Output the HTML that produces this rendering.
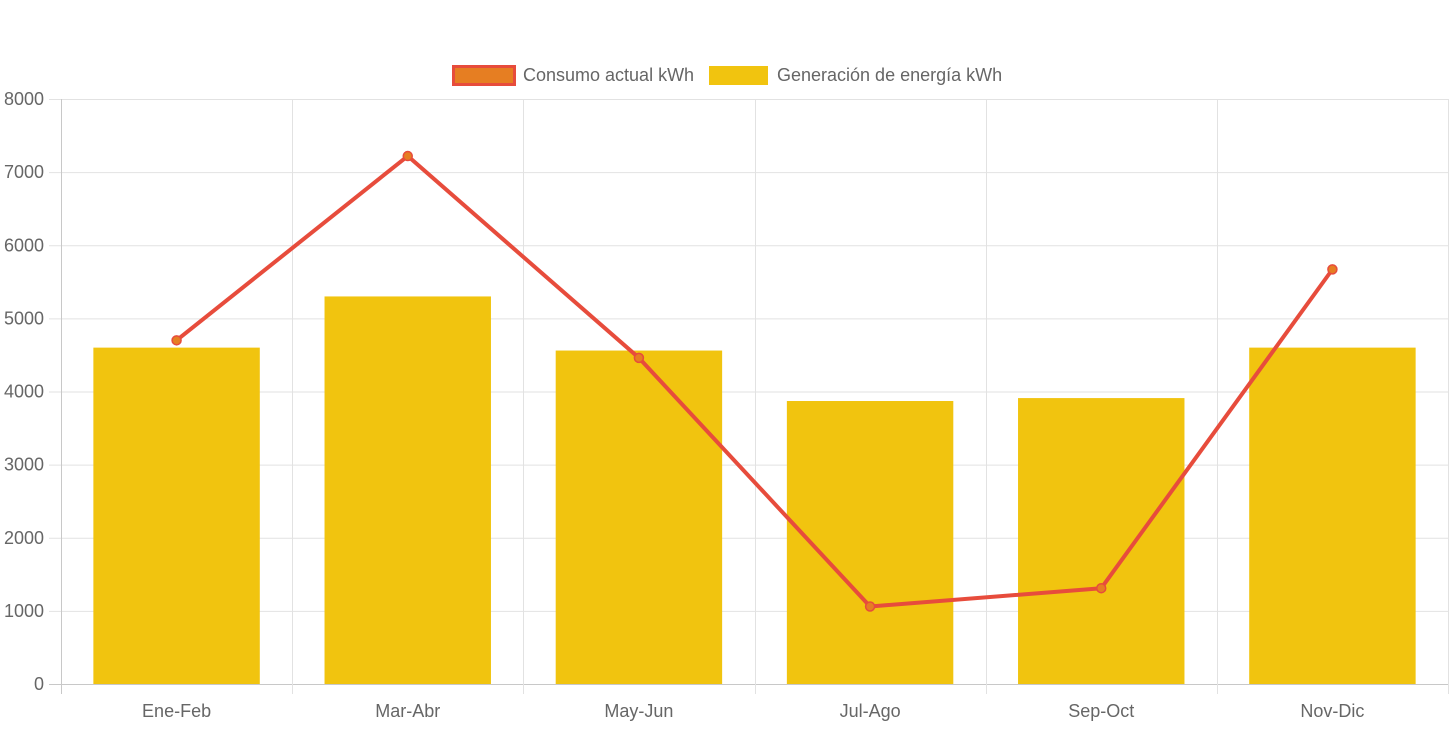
<!DOCTYPE html>
<html><head><meta charset="utf-8"><style>
body{margin:0;background:#fff;width:1456px;height:727px;overflow:hidden}
svg text{font-family:"Liberation Sans",Arial,sans-serif;fill:#666;font-size:18px}
</style></head><body>
<svg id="c" width="1456" height="727">
<g>
<g>
<rect x="453.5" y="66.5" width="61" height="18" fill="#e67e22" stroke="#e74c3c" stroke-width="3"/>
<text x="523" y="81">Consumo actual kWh</text></g>
<g>
<rect x="709" y="66" width="59" height="19" fill="#f1c40f"/>
<text x="777" y="81">Generación de energía kWh</text></g>
</g>
<g id="grid"></g>
<g id="bars"></g>
<g id="line"></g>
</svg>
<script>
const categories=["Ene-Feb","Mar-Abr","May-Jun","Jul-Ago","Sep-Oct","Nov-Dic"];
const generacion=[4600,5300,4560,3870,3910,4600];
const consumo=[4700,7220,4460,1060,1310,5670];
const yTicks=[0,1000,2000,3000,4000,5000,6000,7000,8000];
const NS="http://www.w3.org/2000/svg";
const L=61,R=1448,T=99,B=684,yMax=8000;
const cw=(R-L)/categories.length;
const y=v=>B-(v/yMax)*(B-T);
const xc=i=>L+cw*(i+0.5);
function mk(tag,a,p){const e=document.createElementNS(NS,tag);for(const k in a)e.setAttribute(k,a[k]);p.appendChild(e);return e;}
const g=document.getElementById('grid');
yTicks.forEach(t=>{
 const ln=mk('line',{x1:49,x2:R,y1:y(t)+.5,y2:y(t)+.5,stroke:t===0?'#c8c8c8':'#e2e2e2','stroke-width':1},g);
 
 
 const tx=mk('text',{x:44,y:y(t)+6,'text-anchor':'end'},g);tx.textContent=t;
 
 
});
for(let i=0;i<=categories.length;i++){
 const x=Math.round(L+cw*i)+.5;
 const ln=mk('line',{x1:x,x2:x,y1:T,y2:B+10,stroke:i===0?'#c8c8c8':'#e2e2e2','stroke-width':1},g);
 
 
}
categories.forEach((c,i)=>{
 const tx=mk('text',{x:xc(i),y:717,'text-anchor':'middle'},g);tx.textContent=c;
 
 
});
const bg=document.getElementById('bars');const bw=cw*0.72;
generacion.forEach((v,i)=>{
 const r=mk('rect',{x:xc(i)-bw/2,y:y(v),width:bw,height:B-y(v),fill:'#f1c40f'},bg);
 
 
});
const lg=document.getElementById('line');
const p=mk('polyline',{points:consumo.map((v,i)=>xc(i)+','+y(v)).join(' '),fill:'none',stroke:'#e74c3c','stroke-width':4,'stroke-linejoin':'round'},lg);


consumo.forEach((v,i)=>{
 const c=mk('circle',{cx:xc(i),cy:y(v),r:4.5,fill:'#e67e22',stroke:'#e74c3c','stroke-width':1.5},lg);
 
 
});
</script>
</body></html>
